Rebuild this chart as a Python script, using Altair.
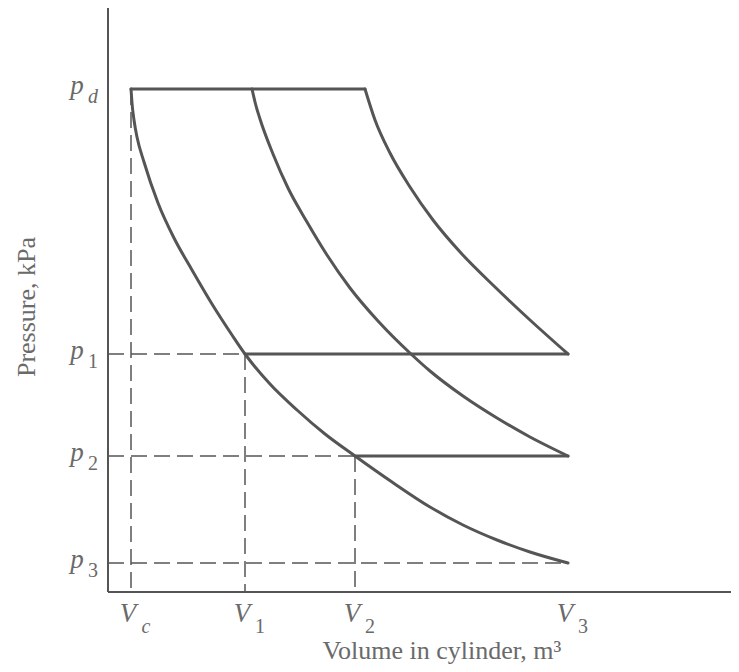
import altair as alt
import pandas as pd

# ---- values (arbitrary units; axis origin = 0) ----
vol_names = ["c", "1", "2", "3"]
vol_values = [0.23, 1.37, 2.47, 4.60]          # Vc, V1, V2, V3
pres_names = ["d", "1", "2", "3"]
pres_values = [5.03, 2.38, 1.36, 0.29]          # pd, p1, p2, p3
top_line_end = 2.57                              # right end of the p_d line

curveA_V = [0.23, 0.24, 0.26, 0.29, 0.36, 0.50, 0.66, 0.84, 1.04, 1.24, 1.37,
            1.62, 1.89, 2.17, 2.47, 2.84, 3.22, 3.55, 3.89, 4.22, 4.60]
curveA_p = [5.03, 4.89, 4.72, 4.55, 4.30, 3.89, 3.54, 3.22, 2.88, 2.57, 2.38,
            2.08, 1.82, 1.58, 1.36, 1.10, 0.85, 0.67, 0.52, 0.40, 0.29]
curveB_V = [1.44, 1.47, 1.52, 1.65, 1.80, 1.99, 2.19, 2.42, 2.70, 3.03, 3.22,
            3.55, 3.89, 4.22, 4.60]
curveB_p = [5.03, 4.90, 4.73, 4.38, 4.04, 3.70, 3.37, 3.04, 2.71, 2.38, 2.21,
            1.96, 1.74, 1.55, 1.36]
curveC_V = [2.57, 2.67, 2.82, 3.02, 3.25, 3.53, 3.87, 4.22, 4.60]
curveC_p = [5.03, 4.72, 4.39, 4.05, 3.72, 3.39, 3.05, 2.72, 2.38]

axis_x_end = 6.31
axis_y_end = 5.85

LINE = "#555555"
TEXT = "#6a6a6a"
SERIF = "Liberation Serif"

Vc, V1, V2, V3 = vol_values
pd_, p1, p2, p3 = pres_values

# ---- tables built from the arrays ----
def segs(named):
    rows = []
    for name, pts in named:
        for i, (v, p) in enumerate(pts):
            rows.append({"seg": name, "i": i, "V": v, "p": p})
    return pd.DataFrame(rows)

solid = segs([
    ("top", [(Vc, pd_), (top_line_end, pd_)]),
    ("h1", [(V1, p1), (V3, p1)]),
    ("h2", [(V2, p2), (V3, p2)]),
    ("A", list(zip(curveA_V, curveA_p))),
    ("B", list(zip(curveB_V, curveB_p))),
    ("C", list(zip(curveC_V, curveC_p))),
])
dashed = segs([
    ("vc", [(Vc, pd_), (Vc, 0)]),
    ("v1", [(V1, p1), (V1, 0)]),
    ("v2", [(V2, p2), (V2, 0)]),
    ("d1", [(0, p1), (V1, p1)]),
    ("d2", [(0, p2), (V2, p2)]),
    ("d3", [(0, p3), (V3, p3)]),
])
axes = segs([
    ("yaxis", [(0, 0), (0, axis_y_end)]),
    ("xaxis", [(0, 0), (axis_x_end, 0)]),
])

plabels = pd.DataFrame({"sub": pres_names, "p": pres_values, "V": [0] * 4, "main": ["p"] * 4})
vlabels = pd.DataFrame({"sub": vol_names, "V": vol_values, "p": [0] * 4, "main": ["V"] * 4})

xs = alt.Scale(domain=[-1.00, 6.23], nice=False, zero=False)
ys = alt.Scale(domain=[-0.72, 5.84], nice=False, zero=False)
X = alt.X("V:Q", scale=xs, axis=None)
Y = alt.Y("p:Q", scale=ys, axis=None)

solid_layer = alt.Chart(solid).mark_line(
    color=LINE, strokeWidth=3, interpolate="monotone", strokeCap="round", strokeJoin="round"
).encode(x=X, y=Y, detail="seg:N", order="i:Q")

dashed_layer = alt.Chart(dashed).mark_line(
    color=LINE, strokeWidth=1.5, strokeDash=[16, 7]
).encode(x=X, y=Y, detail="seg:N", order="i:Q")

axes_layer = alt.Chart(axes).mark_line(color=LINE, strokeWidth=2).encode(
    x=X, y=Y, detail="seg:N", order="i:Q"
)

MAIN_SIZE = 27
SUB_SIZE = 20

p_main = alt.Chart(plabels).mark_text(
    font=SERIF, fontStyle="italic", fontSize=MAIN_SIZE, color=TEXT, align="center",
    baseline="alphabetic", dx=-31, dy=5
).encode(x=X, y=Y, text="main:N")

p_sub_letter = alt.Chart(plabels).transform_filter(
    alt.FieldOneOfPredicate(field="sub", oneOf=["c", "d"])
).mark_text(
    font=SERIF, fontStyle="italic", fontSize=SUB_SIZE, color=TEXT, align="center",
    baseline="alphabetic", dx=-15, dy=14
).encode(x=X, y=Y, text="sub:N")

p_sub_digit = alt.Chart(plabels).transform_filter(
    alt.FieldOneOfPredicate(field="sub", oneOf=["1", "2", "3"])
).mark_text(
    font=SERIF, fontSize=SUB_SIZE, color=TEXT, align="center",
    baseline="alphabetic", dx=-15, dy=14
).encode(x=X, y=Y, text="sub:N")

v_main = alt.Chart(vlabels).mark_text(
    font=SERIF, fontStyle="italic", fontSize=MAIN_SIZE, color=TEXT, align="center",
    baseline="alphabetic", dx=-3, dy=30
).encode(x=X, y=Y, text="main:N")

v_sub_letter = alt.Chart(vlabels).transform_filter(
    alt.FieldOneOfPredicate(field="sub", oneOf=["c", "d"])
).mark_text(
    font=SERIF, fontStyle="italic", fontSize=SUB_SIZE, color=TEXT, align="center",
    baseline="alphabetic", dx=15, dy=41
).encode(x=X, y=Y, text="sub:N")

v_sub_digit = alt.Chart(vlabels).transform_filter(
    alt.FieldOneOfPredicate(field="sub", oneOf=["1", "2", "3"])
).mark_text(
    font=SERIF, fontSize=SUB_SIZE, color=TEXT, align="center",
    baseline="alphabetic", dx=15, dy=41
).encode(x=X, y=Y, text="sub:N")

y_title = alt.Chart(pd.DataFrame({"t": ["Pressure, kPa"]})).mark_text(
    font=SERIF, fontSize=26, color=TEXT, angle=270, align="center", baseline="middle"
).encode(x=alt.value(19), y=alt.value(299), text="t:N")

x_title = alt.Chart(pd.DataFrame({"t": ["Volume in cylinder, m³"]})).mark_text(
    font=SERIF, fontSize=26, color=TEXT, align="center", baseline="alphabetic"
).encode(x=alt.value(434), y=alt.value(651), text="t:N")

chart = alt.layer(
    axes_layer, dashed_layer, solid_layer,
    p_main, p_sub_letter, p_sub_digit, v_main, v_sub_letter, v_sub_digit,
    y_title, x_title,
).properties(
    width=723, height=656,
    autosize=alt.AutoSizeParams(type="none"),
    padding=0,
    background="white",
).configure_view(stroke=None)

chart.save("out.html", embed_options={"renderer": "svg", "actions": False})
